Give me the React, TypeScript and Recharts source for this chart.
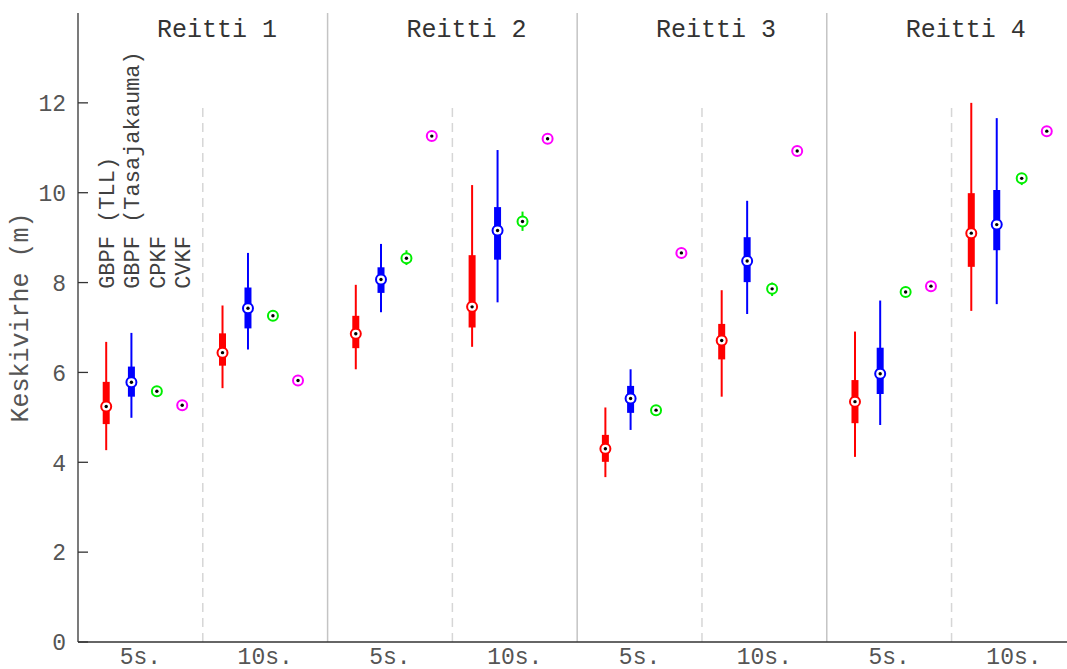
import React from 'react';
import { ComposedChart, Scatter, XAxis, YAxis, ErrorBar, ReferenceLine } from 'recharts';

// slot order: Reitti1 5s, Reitti1 10s, Reitti2 5s, Reitti2 10s, Reitti3 5s, Reitti3 10s, Reitti4 5s, Reitti4 10s
const slotLabels = ['5s.', '10s.', '5s.', '10s.', '5s.', '10s.', '5s.', '10s.'];
const routeTitles = ['Reitti 1', 'Reitti 2', 'Reitti 3', 'Reitti 4'];
const methodNames = ['GBPF (TLL)', 'GBPF (Tasajakauma)', 'CPKF', 'CVKF'];
const yTicks = [0, 2, 4, 6, 8, 10, 12];

// GBPF (TLL) - red
const redMedian = [5.24, 6.44, 6.86, 7.46, 4.3, 6.71, 5.35, 9.1];
const redQ1 = [4.85, 6.15, 6.54, 7.0, 4.01, 6.29, 4.87, 8.35];
const redQ3 = [5.79, 6.87, 7.26, 8.61, 4.61, 7.08, 5.83, 9.99];
const redLow = [4.27, 5.65, 6.07, 6.57, 3.67, 5.46, 4.12, 7.37];
const redHigh = [6.68, 7.49, 7.95, 10.17, 5.22, 7.83, 6.91, 12.0];

// GBPF (Tasajakauma) - blue
const blueMedian = [5.78, 7.43, 8.07, 9.16, 5.42, 8.48, 5.97, 9.29];
const blueQ1 = [5.46, 6.98, 7.77, 8.51, 5.1, 8.01, 5.52, 8.72];
const blueQ3 = [6.13, 7.89, 8.34, 9.68, 5.7, 9.01, 6.55, 10.06];
const blueLow = [4.99, 6.51, 7.34, 7.56, 4.72, 7.3, 4.83, 7.52];
const blueHigh = [6.88, 8.66, 8.86, 10.95, 6.07, 9.82, 7.6, 11.66];

// CPKF - green
const greenMedian = [5.58, 7.26, 8.54, 9.36, 5.16, 7.86, 7.79, 10.32];
const greenLow = [5.58, 7.26, 8.39, 9.15, 5.16, 7.7, 7.79, 10.17];
const greenHigh = [5.58, 7.26, 8.72, 9.58, 5.16, 8.0, 7.79, 10.43];

// CVKF - magenta
const magentaMedian = [5.27, 5.82, 11.26, 11.2, 8.66, 10.93, 7.92, 11.37];

// layout constants
const ITEM_OFFSETS_5S = [0.226, 0.428, 0.632, 0.835];
const ITEM_OFFSETS_10S = [0.158, 0.362, 0.562, 0.763];
const FONT = '"Liberation Mono", "DejaVu Sans Mono", monospace';
const COLORS = ['#ff0000', '#0000ff', '#00ee00', '#ff00ff'];

const itemX = (s: number, i: number) => s + (s % 2 === 0 ? ITEM_OFFSETS_5S[i] : ITEM_OFFSETS_10S[i]);

const build = (i: number, med: number[], lo?: number[], hi?: number[], q1?: number[], q3?: number[]) =>
  med.map((m, s) => ({
    x: itemX(s, i),
    y: m,
    whisk: lo && hi ? [m - lo[s], hi[s] - m] : [0, 0],
    box: q1 && q3 ? [m - q1[s], q3[s] - m] : [0, 0],
  }));

const redData = build(0, redMedian, redLow, redHigh, redQ1, redQ3);
const blueData = build(1, blueMedian, blueLow, blueHigh, blueQ1, blueQ3);
const greenData = build(2, greenMedian, greenLow, greenHigh);
const magentaData = build(3, magentaMedian);

const titleData = routeTitles.map((t, r) => ({ x: 2 * r + 1.113, y: 13.47, label: t }));
const legendData = methodNames.map((n, i) => ({ x: itemX(0, i), y: 7.86, label: n }));

const marker = (color: string) => (props: any) => {
  const { cx, cy } = props;
  if (cx == null || cy == null) return <g />;
  return (
    <g>
      <circle cx={cx} cy={cy} r={5} fill="#fff" stroke={color} strokeWidth={2} />
      <circle cx={cx} cy={cy} r={1.7} fill="#000" />
    </g>
  );
};

const TitleShape = (props: any) => {
  const { cx, cy, payload } = props;
  return (
    <text x={cx} y={cy} textAnchor="middle" fontFamily={FONT} fontSize={25} fill="#333">
      {payload.label}
    </text>
  );
};

const LegendShape = (props: any) => {
  const { cx, cy, payload } = props;
  const bx = cx + 8;
  return (
    <text x={bx} y={cy} transform={`rotate(-90 ${bx} ${cy})`} textAnchor="start" fontFamily={FONT} fontSize={22} fill="#404040">
      {payload.label}
    </text>
  );
};

const YTick = (props: any) => {
  const { x, y, payload } = props;
  return (
    <g>
      <line x1={x} x2={x + 10} y1={y} y2={y} stroke="#333" strokeWidth={1.3} />
      <text x={x - 12} y={y} dy="0.36em" textAnchor="end" fontFamily={FONT} fontSize={23} fill="#555">
        {payload.value}
      </text>
    </g>
  );
};

const XTick = (props: any) => {
  const { x, y, payload, index } = props;
  return (
    <text x={x} y={y + 21.5} textAnchor="middle" fontFamily={FONT} fontSize={23} fill="#555">
      {slotLabels[index] ?? payload.value}
    </text>
  );
};

const YLabel = (props: any) => {
  const vb = props.viewBox || { x: 0, y: 13, width: 78, height: 629 };
  const tx = 28;
  const ty = vb.y + vb.height / 2 - 10;
  return (
    <text x={tx} y={ty} transform={`rotate(-90 ${tx} ${ty})`} textAnchor="middle" fontFamily={FONT} fontSize={25} fill="#555">
      Keskivirhe (m)
    </text>
  );
};

export default function App() {
  return (
    <div style={{ position: 'absolute', left: 0, top: 0, background: '#fff' }}>
      <ComposedChart width={1067} height={669} margin={{ top: 13, right: 0, bottom: 0, left: 0 }}>
        <XAxis
          type="number"
          dataKey="x"
          domain={[0, 7.925]}
          ticks={[0.5, 1.5, 2.5, 3.5, 4.5, 5.5, 6.5, 7.5]}
          tick={<XTick />}
          tickLine={false}
          tickSize={0}
          tickMargin={0}
          height={27}
          axisLine={{ stroke: '#333', strokeWidth: 1.3 }}
        />
        <YAxis
          type="number"
          dataKey="y"
          domain={[0, 14]}
          ticks={yTicks}
          tick={<YTick />}
          tickLine={false}
          tickSize={0}
          tickMargin={0}
          width={78}
          axisLine={{ stroke: '#333', strokeWidth: 1.3 }}
          label={{ content: YLabel }}
        />
        {[2, 4, 6].map((v) => (
          <ReferenceLine key={'s' + v} x={v} stroke="#c4c4c4" strokeWidth={1.5} />
        ))}
        {[1, 3, 5, 7].map((v) => (
          <ReferenceLine
            key={'d' + v}
            segment={[{ x: v, y: 0 }, { x: v, y: 12 }]}
            stroke="#d6d6d6"
            strokeWidth={1.5}
            strokeDasharray="9 6"
          />
        ))}
        <Scatter data={titleData} shape={TitleShape} isAnimationActive={false} />
        <Scatter data={legendData} shape={LegendShape} isAnimationActive={false} />
        <Scatter data={redData} shape={marker(COLORS[0])} isAnimationActive={false}>
          <ErrorBar dataKey="whisk" direction="y" width={0} stroke={COLORS[0]} strokeWidth={2} isAnimationActive={false} />
          <ErrorBar dataKey="box" direction="y" width={0} stroke={COLORS[0]} strokeWidth={7} isAnimationActive={false} />
        </Scatter>
        <Scatter data={blueData} shape={marker(COLORS[1])} isAnimationActive={false}>
          <ErrorBar dataKey="whisk" direction="y" width={0} stroke={COLORS[1]} strokeWidth={2} isAnimationActive={false} />
          <ErrorBar dataKey="box" direction="y" width={0} stroke={COLORS[1]} strokeWidth={7} isAnimationActive={false} />
        </Scatter>
        <Scatter data={greenData} shape={marker(COLORS[2])} isAnimationActive={false}>
          <ErrorBar dataKey="whisk" direction="y" width={0} stroke={COLORS[2]} strokeWidth={2} isAnimationActive={false} />
        </Scatter>
        <Scatter data={magentaData} shape={marker(COLORS[3])} isAnimationActive={false} />
      </ComposedChart>
    </div>
  );
}
